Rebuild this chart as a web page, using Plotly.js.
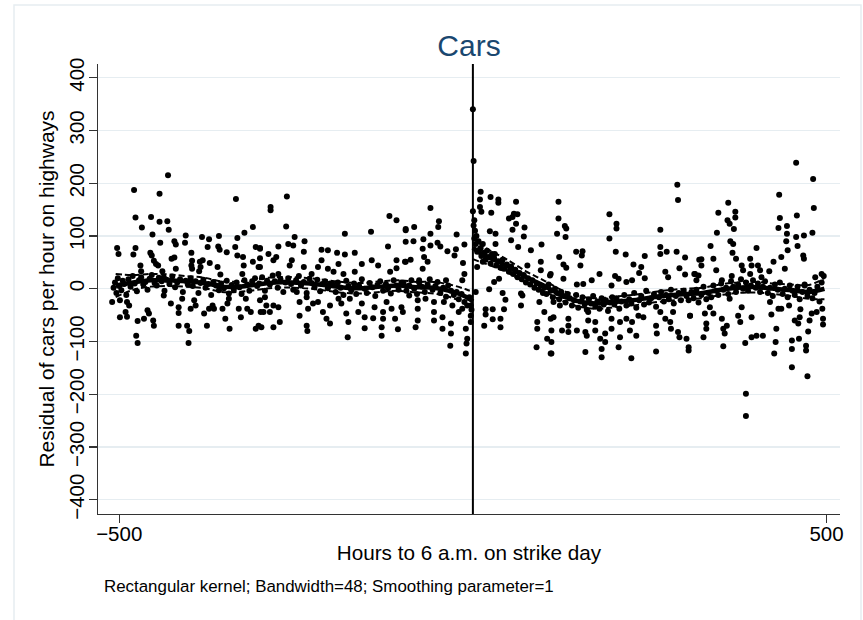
<!DOCTYPE html>
<html><head><meta charset="utf-8">
<script src="https://cdn.plot.ly/plotly-3.0.1.min.js"></script>
<style>html,body{margin:0;padding:0;background:#fff}#chart{width:863px;height:620px}</style>
</head><body><div id="chart"></div>
<script>
// ---------- scatter: hours before strike ----------
var preUpHours = [-431,-479,-443,-335,-477,-455,-443,-432,-468,-430,
  -453,-311,-323,-442,-422,-420,-407,-406,-383,-373,
  -359,-375,-360,-358,-348,-336,-333,-503,-501,-480,
  -477,-456,-454,-451,-448,-445,-426,-422,-398,-397,
  -398,-386,-382,-372,-361,-357,-333,-325,-311,-307,
  -301,-324,-326,-303,-470,-469,-439,-437,-420,-397,
  -387,-385,
  -263,-286,-286,-264,-252,-238,-254,-261,-181,-144,
  -118,-108,-95,-120,-95,-301,-301,-289,-275,-278,
  -282,-256,-259,-239,-239,-214,-205,-192,-181,-167,
  -214,-190,-219,-205,-197,-157,-143,-134,-167,-228,
  -183,-108,-96,-108,-117,-275,-301,
  -60,-83,-95,-48,-49,-23,-12,-84,-70,-60,
  -71,-60,-50,-46,-36,-24,-26,-88,-95,-69,
  -64,-71,-14,-12,-15,-38,-76];
var preUpResid = [215,187,180,170,135,136,127,128,116,112,
  103,117,106,87,90,84,87,101,98,94,
  100,79,80,74,69,79,96,77,66,65,
  77,68,63,53,47,44,57,59,68,53,
  44,51,54,49,41,27,63,60,51,79,
  76,44,28,41,44,33,33,22,38,38,
  33,41,
  175,155,149,118,98,90,82,85,104,108,
  138,130,111,80,89,77,58,66,80,60,
  54,54,44,70,41,74,73,68,65,68,
  54,47,41,38,32,47,54,44,32,28,
  28,54,51,39,32,28,41,
  153,117,113,128,117,103,84,90,94,104,
  76,82,87,80,71,75,63,55,51,60,
  51,38,49,28,16,16,16];
var preLowHours = [-510,-499,-489,-486,-499,-489,-491,-474,-465,-460,
  -458,-452,-451,-476,-474,-437,-427,-416,-416,-411,
  -416,-404,-401,-402,-399,-394,-392,-380,-376,-373,
  -368,-366,-354,-350,-344,-347,-345,-331,-328,-321,
  -319,-314,-307,-303,-300,
  -301,-294,-292,-296,-287,-282,-275,-299,-282,-273,
  -249,-245,-245,-235,-233,-235,-234,-226,-219,-212,
  -207,-202,-202,-190,-186,-179,-176,-177,-174,-162,
  -157,-153,-153,-141,-139,-127,-127,-129,-129,-122,
  -115,-110,-106,-101,-99,
  -90,-78,-78,-78,-81,-67,-55,-55,-55,-43,
  -43,-41,-31,-31,-32,-29,-20,-10,-8,-9,
  -10,-3,-3,-3,-5,-15];
var preLowResid = [-25,-22,-25,-32,-54,-53,-44,-61,-57,-41,
  -47,-60,-70,-89,-103,-13,-28,-35,-46,-19,
  -70,-70,-80,-103,-38,-22,-32,-47,-70,-38,
  -32,-38,-38,-57,-76,-28,-19,-38,-54,-19,
  -38,-44,-76,-70,-44,
  -22,-16,-32,-44,-44,-32,-35,-73,-73,-63,
  -6,-25,-51,-16,-38,-70,-80,-28,-25,-44,
  -57,-66,-32,-19,-28,-47,-63,-92,-19,-44,
  -28,-54,-75,-56,-35,-44,-57,-73,-89,-25,
  -38,-57,-77,-35,-44,
  -13,-22,-38,-60,-73,-19,-25,-44,-60,-54,
  -76,-25,-66,-85,-108,-32,-44,-76,-95,-104,
  -123,-63,-51,-32,-16,-38];
var preBandHours = [-508,-506,-504,-502,-500,-497,-495,-493,-490,-487,-484,-481,-478,-475,-472,-469,-466,-463,-460,-457,-454,-450,-447,-444,-440,-436,-433,-429,-425,-421,-418,-414,-410,-406,-403,
  -399,-396,-392,-388,-385,-381,-378,-374,-370,-367,-363,-359,-356,-352,-348,-345,-341,-338,-334,-330,-327,-323,-319,-316,-312,-308,-305,
  -302,-298,-294,-291,-287,-283,-280,-276,-272,-268,-265,-261,-257,-254,-250,-246,-243,-239,-235,-231,-228,-224,-220,-216,-213,-209,-205,-202,
  -198,-194,-191,-187,-183,-179,-176,-172,-168,-165,-161,-157,-153,-150,-146,-142,-138,-135,-131,-127,-123,-120,-116,-112,-108,-105,-101,
  -98,-94,-90,-87,-83,-79,-76,-72,-68,-64,-61,-57,-53,-50,-46,-42,-38,-35,-31,-27,-23,-20,-16,-12,-8,-5,-2];
var preBandResid = [2,12,-8,20,5,-3,15,9,-12,18,4,24,10,-5,16,22,8,13,-2,19,26,11,6,21,14,-4,17,9,23,3,12,18,-6,15,8,
  20,5,14,-8,11,17,2,9,-12,13,6,-3,10,1,15,-9,7,-2,12,3,-10,16,8,-4,14,20,5,
  10,22,-4,15,8,25,14,2,18,-6,12,20,9,-2,16,24,6,13,-8,19,11,3,17,-5,9,14,1,10,
  8,-6,12,2,-12,15,5,-3,10,-10,6,18,0,-8,11,3,-14,7,14,-4,9,1,-9,16,6,-2,12,
  10,-4,6,16,0,-10,12,4,-6,8,18,-2,5,13,-8,2,-15,6,-4,-12,-6,-20,-10,-25,-32,-18,-40];

// ---------- scatter: hours after strike ----------
var postUpHours = [0,1,11,10,25,36,36,61,10,12,
  0,2,26,58,63,56,51,61,73,56,
  24,32,72,54,32,11,64,82,97,31,
  14,96,110,96,77,37,30,23,6,4,
  289,290,121,121,130,132,119,131,193,203,
  203,193,265,265,274,265,288,300,320,122,
  128,132,128,146,155,154,152,179,168,202,
  216,243,227,238,235,243,201,206,225,217,
  272,276,292,300,313,316,109,147,156,196,
  457,481,433,361,347,371,371,360,363,369,
  345,434,432,444,444,458,482,457,468,480,
  364,368,443,459,336,401,367,445,467,468,
  323,323,340,372,392,436,425,344,380,394,
  382,403,406,419,441,392,314,319,366,352,
  408,484,493,469];
var postUpResid = [340,242,184,169,174,169,163,165,155,146,
  147,130,144,142,141,136,133,123,116,112,
  109,104,99,92,85,77,79,73,84,66,
  51,51,28,35,44,19,13,-1,41,-6,
  197,168,165,133,119,114,104,98,141,123,
  114,95,112,79,70,66,70,59,55,60,
  46,40,19,70,71,63,44,28,16,70,
  65,62,46,41,30,20,24,19,16,13,
  32,22,39,27,28,16,25,8,9,6,
  239,208,178,163,144,146,135,130,123,113,
  106,134,115,119,104,139,153,98,101,106,
  90,85,90,81,81,77,68,73,63,57,
  56,44,57,57,57,60,51,35,44,44,
  35,44,35,33,38,28,28,25,24,16,
  22,22,28,6];
var postLowHours = [42,46,44,39,39,28,28,18,18,16,
  68,68,70,94,101,91,91,90,110,105,110,
  114,114,111,111,111,123,126,135,135,135,
  147,159,159,161,163,163,173,173,180,182,
  182,187,187,196,196,208,208,206,217,225,
  222,231,224,234,241,259,260,259,265,272,
  279,280,283,290,292,302,305,305,307,
  307,326,328,330,330,340,335,354,352,354,
  356,359,363,375,378,380,385,394,394,386,
  386,410,422,420,426,428,429,432,436,447,
  451,451,451,455,460,461,462,463,471,471,
  473,474,476,479,486,494,495,495,401];
var postLowResid = [-8,-21,-39,-57,-73,-39,-58,-39,-49,-70,
  -9,-32,-13,-25,-44,-63,-76,-111,-57,-95,-123,
  -25,-54,-79,-101,-123,-32,-79,-57,-70,-82,
  -79,-120,-82,-89,-44,-60,-63,-79,-95,-114,
  -130,-85,-101,-57,-76,-63,-92,-111,-57,-63,
  -79,-89,-132,-51,-54,-70,-85,-119,-44,-57,
  -63,-76,-44,-82,-92,-95,-111,-117,-51,
  -51,-92,-47,-66,-76,-47,-35,-109,-57,-76,
  -85,-70,-19,-51,-63,-35,-103,-92,-54,-199,
  -241,-89,-49,-25,-123,-101,-76,-38,-38,-32,
  -98,-114,-149,-60,-66,-95,-54,-39,-108,-117,
  -166,-81,-60,-47,-44,-38,-57,-68,-89];
var postBandHours = [1,2,3,4,5,6,8,10,12,14,16,18,20,22,25,27,30,33,36,39,42,45,48,51,54,57,60,63,66,69,72,75,78,81,84,87,90,93,96,99,
  101,104,107,110,113,116,119,122,125,128,131,134,137,140,143,146,149,152,155,158,161,164,167,170,173,176,179,182,185,188,191,194,197,
  200,203,207,210,214,217,221,224,228,231,235,238,242,245,249,252,256,259,263,266,270,273,277,280,284,287,291,294,298,
  302,305,309,312,316,319,323,326,330,333,337,340,344,347,351,354,358,361,365,368,372,375,379,382,386,389,393,396,400,
  403,406,410,413,417,420,424,427,431,434,438,441,445,448,452,455,459,462,466,469,473,476,480,483,487,490,493,496];
var postBandResid = [120,95,110,85,100,70,90,75,62,85,68,55,72,60,48,66,58,44,52,40,55,38,46,32,42,28,36,22,30,18,26,12,20,8,16,2,10,-2,6,-8,
  2,-10,8,-4,-16,0,-8,-20,-6,-14,-26,-10,-18,-32,-22,-12,-36,-24,-16,-30,-40,-20,-28,-14,-34,-24,-38,-18,-30,-22,-42,-26,-16,
  -30,-18,-38,-24,-12,-32,-20,-28,-8,-36,-22,-14,-30,-4,-26,-18,-10,-34,-16,-6,-24,-12,-20,-2,-28,-14,-8,-22,-4,
  -14,-22,-6,-18,-2,-26,-12,4,-20,-8,-16,6,-4,-12,10,-2,2,-10,14,4,-6,8,18,0,12,-4,6,16,2,
  10,-6,4,14,-8,2,-14,8,-2,12,-10,0,-16,6,-4,-12,4,-20,-6,8,-14,-2,-18,-8,4,-24,12,24];

// ---------- kernel smooth and its dashed band ----------
var smoothPreHours = [-505,-480,-455,-430,-405,-380,-355,-330,-305,-280,-255,-230,-205,-180,-155,-130,-105,-80,-55,-30,-10,0];
var smoothPreFit   = [6,12,16,16,14,11,4,4,8,12,12,10,6,2,1,4,6,3,2,-5,-15,-24];
var smoothPreUpper = [28,26,28,27,24,21,14,14,18,22,22,20,16,12,11,14,16,13,13,7,-1,-6];
var smoothPreLower = [-16,-2,4,5,4,1,-6,-6,-2,2,2,0,-4,-8,-9,-6,-4,-7,-9,-17,-29,-42];
var smoothPostHours = [0,10,25,50,75,100,125,150,175,200,225,250,275,300,325,350,375,400,425,450,475,497];
var smoothPostFit   = [78,68,58,42,22,6,-12,-24,-28,-25,-22,-17,-13,-10,-8,-2,2,3,0,-3,-6,0];
var smoothPostUpper = [100,85,72,54,33,16,-2,-14,-18,-15,-12,-7,-3,0,2,8,12,13,10,8,7,20];
var smoothPostLower = [56,51,44,30,11,-4,-22,-34,-38,-35,-32,-27,-23,-20,-18,-12,-8,-7,-10,-14,-19,-20];

var yTicks = [-400,-300,-200,-100,0,100,200,300,400];
var xTicks = [-500,500];

var allHours = [].concat(preUpHours, preLowHours, preBandHours, postUpHours, postLowHours, postBandHours);
var allResid = [].concat(preUpResid, preLowResid, preBandResid, postUpResid, postLowResid, postBandResid);

var dashLine = {color:'#000', width:2, dash:'6px,3px'};
var solidLine = {color:'#000', width:4.5};
var traces = [
  {x: allHours, y: allResid, type:'scatter', mode:'markers', marker:{color:'#000', size:6}, hoverinfo:'skip'},
  {x: smoothPreHours, y: smoothPreUpper, mode:'lines', line:Object.assign({}, dashLine)},
  {x: smoothPreHours, y: smoothPreLower, mode:'lines', line:Object.assign({}, dashLine)},
  {x: smoothPreHours, y: smoothPreFit, mode:'lines', line:Object.assign({}, solidLine)},
  {x: smoothPostHours, y: smoothPostUpper, mode:'lines', line:Object.assign({}, dashLine)},
  {x: smoothPostHours, y: smoothPostLower, mode:'lines', line:Object.assign({}, dashLine)},
  {x: smoothPostHours, y: smoothPostFit, mode:'lines', line:Object.assign({}, solidLine)}
];
traces.forEach(function(t,i){ if(i>0){ t.type='scatter'; t.line.shape='spline'; t.hoverinfo='skip'; }});

var font = 'Liberation Sans, Arial, Helvetica, sans-serif';
var layout = {
  width:863, height:620,
  margin:{l:98, r:23, t:64, b:106},
  paper_bgcolor:'#ffffff', plot_bgcolor:'#ffffff',
  showlegend:false,
  font:{family:font, color:'#000'},
  title:{text:'Cars', font:{family:font, size:30, color:'#1a476f'}, x:0.5, xref:'paper', xanchor:'center', y:0.927, yref:'container', yanchor:'middle'},
  xaxis:{range:[-530,519], tickmode:'array', tickvals:xTicks, ticks:'outside', ticklen:8, tickwidth:1.2, tickcolor:'#333',
    showline:true, linecolor:'#333', linewidth:1.3, showgrid:false, zeroline:false, ticklabelstandoff:-7,
    tickfont:{size:20.5, color:'#000'},
    title:{text:'Hours to 6 a.m. on strike day', font:{size:20.7, color:'#000'}, standoff:1}},
  yaxis:{range:[-427,426], tickmode:'array', tickvals:yTicks, ticks:'outside', ticklen:8, tickwidth:1.2, tickcolor:'#333',
    tickangle:-90, showline:true, linecolor:'#333', linewidth:1.3, showgrid:true, gridcolor:'#e6edf1', gridwidth:1.2, zeroline:false,
    ticklabelstandoff:-3,
    tickfont:{size:20.5, color:'#000'},
    title:{text:'Residual of cars per hour on highways', font:{size:21, color:'#000'}, standoff:4}},
  shapes:[
    {type:'line', xref:'x', yref:'paper', x0:0, x1:0, y0:0, y1:1, line:{color:'#000', width:2}},
    {type:'rect', xref:'paper', yref:'paper', x0:-0.1132, x1:1.0283, y0:-0.26, y1:1.1311, line:{color:'#e6edf1', width:1.5}, layer:'below'}
  ],
  annotations:[
    {text:'Rectangular kernel; Bandwidth=48; Smoothing parameter=1', xref:'paper', yref:'paper', x:0.0054, y:-0.1622,
     xanchor:'left', yanchor:'middle', showarrow:false, font:{family:font, size:16.9, color:'#000'}}
  ]
};
Plotly.newPlot('chart', traces, layout, {displayModeBar:false, staticPlot:true});
</script></body></html>
